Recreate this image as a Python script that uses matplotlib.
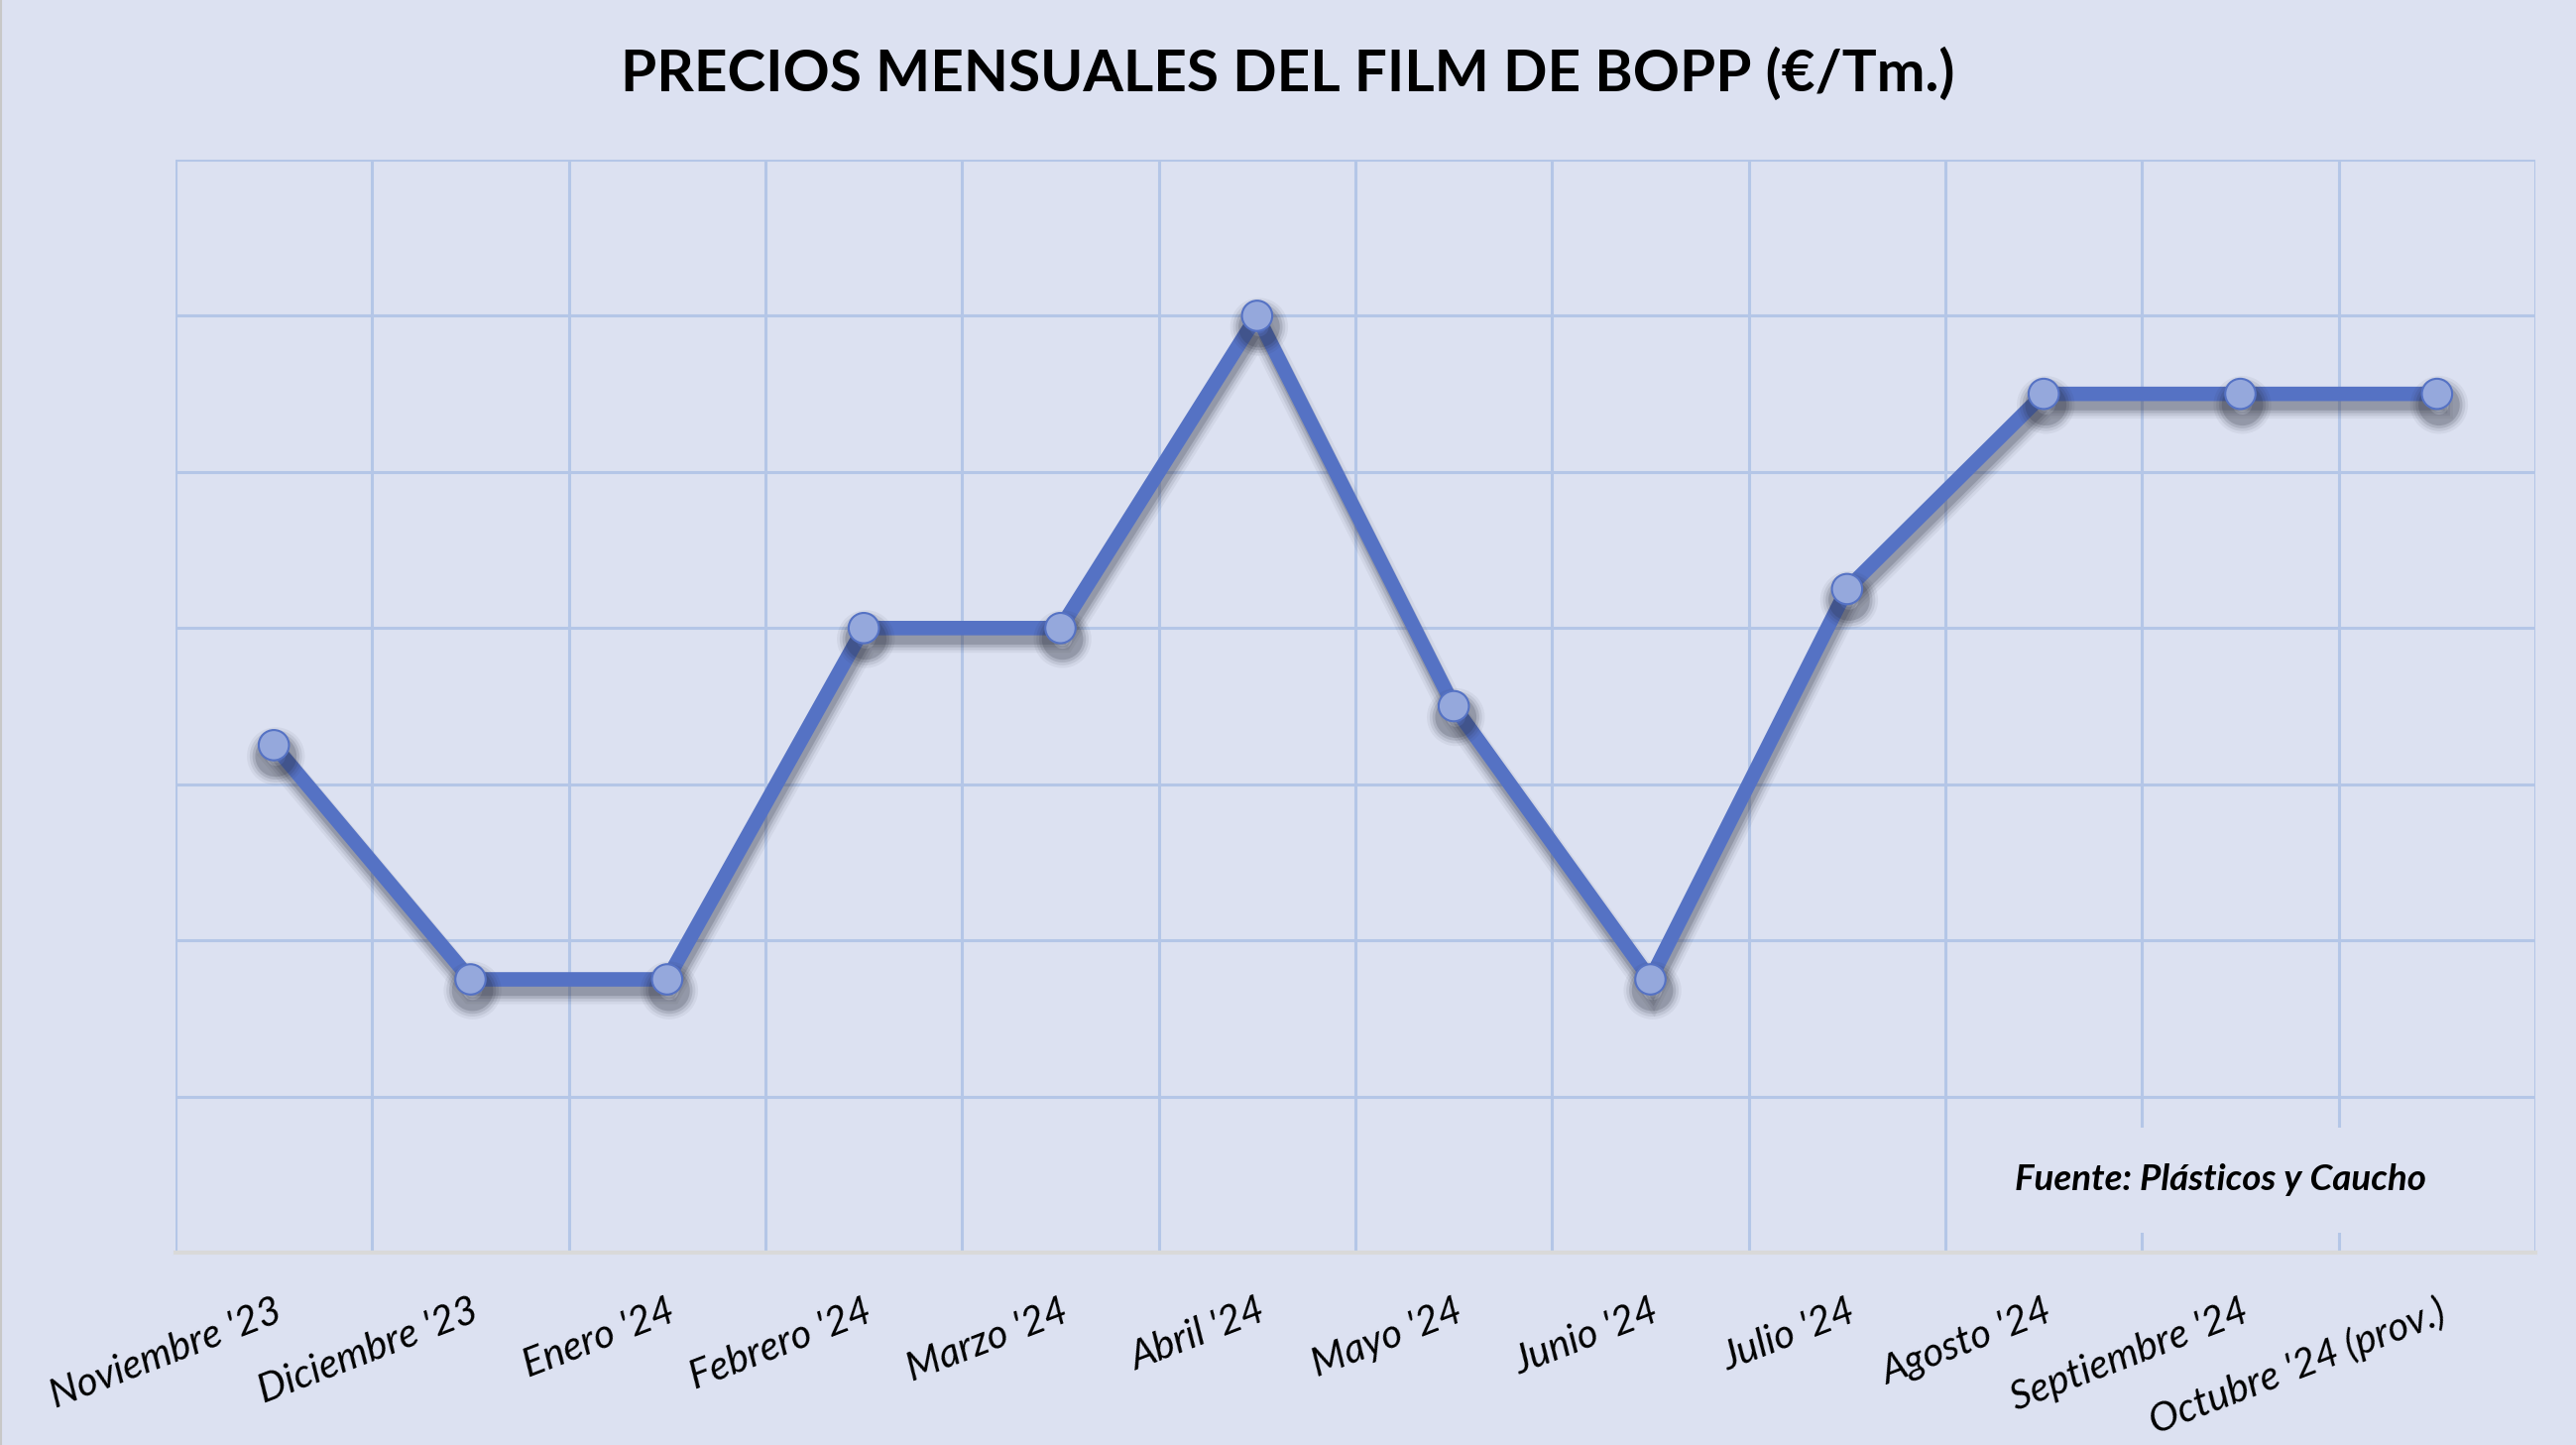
import matplotlib
matplotlib.use("Agg")
import matplotlib.pyplot as plt
import matplotlib.patheffects as pe
from matplotlib.lines import Line2D
import numpy as np

# ---- data ----
months = ["Noviembre '23", "Diciembre '23", "Enero '24", "Febrero '24", "Marzo '24",
          "Abril '24", "Mayo '24", "Junio '24", "Julio '24", "Agosto '24",
          "Septiembre '24", "Octubre '24 (prov.)"]
prices = [1865, 1835, 1835, 1880, 1880, 1920, 1870, 1835, 1885, 1910, 1910, 1910]
y_min, y_max, y_step = 1800, 1940, 20

title = "PRECIOS MENSUALES DEL FILM DE BOPP (€/Tm.)"
source = "Fuente: Plásticos y Caucho"

# ---- style ----
BG = "#DCE1F1"
GRID = "#B4C6E7"
LINE = "#5572C4"
MFACE = "#95A8DC"
W, H, DPI = 2598, 1457, 100

fig = plt.figure(figsize=(W / DPI, H / DPI), dpi=DPI, facecolor=BG)
ax = fig.add_axes([177 / W, 1 - 1263 / H, (2557 - 177) / W, (1263 - 161) / H])
ax.set_facecolor(BG)

x = np.arange(len(months))
SC = "#262a38"
shadow_fx = [
    pe.SimpleLineShadow(offset=(1.5, -8), shadow_color=SC, alpha=0.06, rho=1, linewidth=20),
    pe.SimpleLineShadow(offset=(1.5, -8), shadow_color=SC, alpha=0.09, rho=1, linewidth=16),
    pe.SimpleLineShadow(offset=(1.5, -8), shadow_color=SC, alpha=0.13, rho=1, linewidth=12),
    pe.SimpleLineShadow(offset=(1.5, -8), shadow_color=SC, alpha=0.18, rho=1, linewidth=8),
    pe.Normal(),
]
ax.plot(x, prices, color=LINE, linewidth=10.5, solid_joinstyle="miter",
        marker="o", markersize=22, markerfacecolor=MFACE, markeredgecolor=LINE,
        markeredgewidth=1.5, zorder=3, path_effects=shadow_fx)

ax.set_xlim(-0.5, len(months) - 0.5)
ax.set_ylim(y_min, y_max)
ax.set_yticks(np.arange(y_min, y_max + 1, y_step))
ax.set_yticklabels([])
ax.set_xticks(x)
ax.set_xticks(np.arange(-0.5, len(months), 1.0), minor=True)
ax.set_xticklabels(months, rotation=21, ha="right", va="top", rotation_mode="anchor",
                   fontsize=29, fontstyle="italic",
                   family=["Lato", "DejaVu Sans"])
ax.tick_params(axis="both", which="both", length=0)
ax.tick_params(axis="x", which="major", pad=29)
ax.set_axisbelow(True)
ax.grid(axis="y", which="major", color=GRID, linewidth=2.2)
ax.grid(axis="x", which="minor", color=GRID, linewidth=2.2)
ax.grid(axis="x", which="major", visible=False)
for s in ["left", "right", "top"]:
    ax.spines[s].set_visible(False)
ax.spines["bottom"].set_color("#D9D9D9")
ax.spines["bottom"].set_linewidth(3)
ax.spines["bottom"].set_zorder(2.5)

fig.text(0.5, 1 - 75 / H, title, ha="center", va="center", fontsize=42,
         fontweight="bold", family=["Lato", "DejaVu Sans"], color="black")

ax.text(2240 / W, 1 - 1190 / H, source, transform=fig.transFigure,
        ha="center", va="center", fontsize=26.5, fontweight="bold", fontstyle="italic",
        family=["Lato", "DejaVu Sans"], color="black", zorder=5,
        bbox=dict(boxstyle="square,pad=1.0", facecolor=BG, edgecolor="none"))

fig.add_artist(Line2D([1 / W, 1 / W], [0, 1], color="#C8C8C8", linewidth=1.5,
                      transform=fig.transFigure))

fig.savefig("out.png", dpi=DPI, facecolor=BG)
